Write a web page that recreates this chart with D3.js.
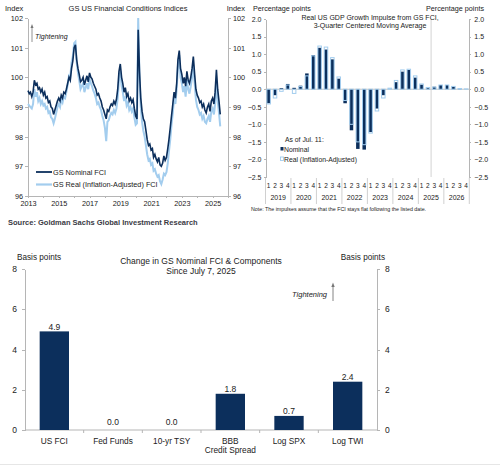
<!DOCTYPE html>
<html lang="en">
<head>
<meta charset="utf-8">
<title>GS Financial Conditions</title>
<script src="https://d3js.org/d3.v7.min.js"></script>
<style>
  body, html { margin: 0; padding: 0; background: #fff; }
  svg { font-family: "Liberation Sans", Arial, sans-serif; }
  .axis path, .axis line { stroke: #b5b5b5; shape-rendering: crispEdges; }
  .axis text { fill: #222; }
</style>
</head>
<body>
<script>
// ---- GS US Financial Conditions Indices (monthly, Jan 2013 - Jul 2025) ----
var fciStart = "2013-01";
var nominalFCI = [
  99.55, 99.45, 99.5, 99.35, 99.5, 99.9, 99.75, 99.8, 99.6, 99.65, 99.5, 99.6,
  99.4, 99.5, 99.3, 99.35, 99.15, 99.2, 99.0, 98.95, 98.75, 98.9, 99.05, 99.2,
  99.3, 99.2, 99.4, 99.3, 99.5, 99.45, 99.6, 99.8, 100.0, 99.9, 100.3, 100.55,
  101.0, 101.1, 100.6, 100.3, 100.1, 99.85, 99.9, 100.0, 99.75, 99.9, 100.05, 99.85,
  100.15, 100.0, 99.95, 99.8, 99.7, 99.6, 99.4, 99.45, 99.3, 99.2, 99.0, 98.9,
  98.75, 98.6, 98.9, 98.85, 99.0, 99.1, 99.05, 99.2, 99.1, 99.25, 99.6, 100.2,
  100.45, 100.0, 99.8, 99.5, 99.65, 99.35, 99.45, 99.2, 99.3, 99.15, 99.25, 98.95,
  98.7, 98.6, 101.6, 100.2, 99.3, 98.85, 98.6, 98.5, 98.2, 97.9, 97.7, 97.75,
  97.55, 97.6, 97.3, 97.4, 97.25, 97.15, 97.3, 97.05, 97.0, 97.1, 97.35, 97.2,
  97.3, 97.6, 97.9, 98.3, 98.7, 99.1, 99.5, 99.3, 99.8, 100.6, 100.9, 100.3,
  100.1, 99.8, 100.0, 99.7, 100.2, 99.9, 99.8, 100.0, 100.3, 100.7, 100.1, 99.6,
  99.4, 99.3, 99.15, 99.2, 99.0, 99.1, 98.9, 98.8, 99.0, 99.1, 98.85, 99.2,
  99.3, 99.1, 99.5, 100.25, 99.6, 99.2, 98.75
];
var realFCI = [
  99.1, 99.05, 99.0, 98.95, 99.1, 99.6, 99.35, 99.5, 99.2, 99.3, 99.1, 99.2,
  99.05, 99.1, 98.95, 99.0, 98.8, 98.85, 98.65, 98.6, 98.45, 98.6, 98.8, 99.0,
  99.1, 99.0, 99.25, 99.15, 99.35, 99.3, 99.5, 99.75, 100.05, 100.0, 100.5, 100.7,
  101.15, 101.2, 100.5, 100.15, 99.9, 99.6, 99.7, 99.8, 99.5, 99.65, 99.8, 99.6,
  99.95, 99.8, 99.7, 99.55, 99.45, 99.3, 99.1, 99.15, 99.0, 98.9, 98.7, 98.55,
  98.3, 97.85, 98.5, 98.55, 98.7, 98.8, 98.75, 98.9, 98.8, 98.95, 99.3, 99.9,
  100.2, 99.7, 99.5, 99.2, 99.35, 99.05, 99.15, 98.9, 99.0, 98.85, 98.95, 98.65,
  98.4, 98.45, 102.0, 100.0, 99.0, 98.5, 98.2, 98.0, 97.7, 97.4, 97.2, 97.25,
  97.05, 97.1, 96.85, 96.9, 96.75, 96.65, 96.7, 96.5, 96.4, 96.55, 96.75, 96.7,
  96.8, 97.1, 97.5, 97.9, 98.4, 98.8, 99.3, 99.1, 99.6, 100.4, 100.75, 100.0,
  99.8, 99.5, 99.7, 99.35, 99.9, 99.6, 99.45, 99.7, 100.0, 100.4, 99.8, 99.25,
  99.0, 98.9, 98.75, 98.8, 98.6, 98.7, 98.5, 98.45, 98.6, 98.7, 98.5, 98.85,
  98.95, 98.75, 99.1, 99.9, 99.2, 98.8, 98.35
];
var fciTicks = [96, 97, 98, 99, 100, 101, 102];

// ---- GDP growth impulse, quarterly 2019Q1 - 2026Q4 ----
var impulseYears = ["2019", "2020", "2021", "2022", "2023", "2024", "2025", "2026"];
var impulseNominal = [
  -0.40, -0.17, 0.03, 0.15,
   0.04, 0.10, 0.45, 0.97,
   1.18, 1.13, 0.85, 0.30,
  -0.40, -1.17, -1.70, -1.72,
  -1.22, -0.55, -0.17, 0.00,
   0.20, 0.50, 0.55, 0.33,
   0.13, 0.03, 0.07, 0.12,
   0.12, 0.07, 0.01, 0.00
];
var impulseReal = [
  -0.42, -0.25, -0.06, 0.12,
  -0.12, 0.08, 0.38, 0.95,
   1.23, 1.20, 0.90, 0.35,
  -0.32, -1.00, -1.50, -1.58,
  -1.25, -0.62, -0.25, 0.03,
   0.25, 0.55, 0.57, 0.38,
   0.15, 0.05, 0.06, 0.12,
   0.12, 0.08, 0.02, 0.01
];
var impulseTicks = [-2.5, -2.0, -1.5, -1.0, -0.5, 0.0, 0.5, 1.0, 1.5, 2.0];

// ---- Change in FCI & components since July 7, 2025 ----
var compNames = ["US FCI", "Fed Funds", "10-yr TSY", "BBB|Credit Spread", "Log SPX", "Log TWI"];
var compValues = [4.9, 0.0, 0.0, 1.8, 0.7, 2.4];
var compTicks = [0, 2, 4, 6, 8];

var darkBlue = "#0c2f5c";
var lightBlue = "#a3cdee";

var svg = d3.select("body").append("svg")
  .attr("width", 500)
  .attr("height", 466);

// ================= chart 1: FCI lines =================
var c1 = svg.append("g");

var fciDates = nominalFCI.map(function(d, i) {
  return d3.timeMonth.offset(d3.timeParse("%Y-%m")(fciStart), i);
});

var xFci = d3.scaleTime()
  .domain([new Date(2013, 0, 1), new Date(2026, 0, 1)])
  .range([28, 228]);
var yFci = d3.scaleLinear().domain([96, 102]).range([196, 18]);

c1.append("g").attr("class", "axis")
  .attr("transform", "translate(28,0)")
  .call(d3.axisLeft(yFci).tickValues(fciTicks).tickFormat(d3.format("d")).tickSize(3).tickSizeOuter(0).tickPadding(2))
  .selectAll("text").style("font-size", "7.3px");

c1.append("g").attr("class", "axis")
  .attr("transform", "translate(228,0)")
  .call(d3.axisRight(yFci).tickValues(fciTicks).tickFormat(d3.format("d")).tickSize(3).tickSizeOuter(0).tickPadding(2))
  .selectAll("text").style("font-size", "7.3px");

c1.append("g").attr("class", "axis")
  .attr("transform", "translate(0,196)")
  .call(d3.axisBottom(xFci)
    .ticks(d3.timeYear.every(1))
    .tickSize(2).tickSizeOuter(0).tickPadding(3)
    .tickFormat(function(d) { var y = d.getFullYear(); return y % 2 === 1 && y < 2026 ? y : ""; }))
  .selectAll("text").style("font-size", "7.3px");

var fciLine = d3.line()
  .x(function(d, i) { return xFci(fciDates[i]); })
  .y(function(d) { return yFci(d); });

c1.append("path")
  .datum(realFCI)
  .attr("fill", "none")
  .attr("stroke", lightBlue)
  .attr("stroke-width", 2)
  .attr("d", fciLine);

c1.append("path")
  .datum(nominalFCI)
  .attr("fill", "none")
  .attr("stroke", darkBlue)
  .attr("stroke-width", 1.6)
  .attr("d", fciLine);

c1.append("text").attr("x", 5).attr("y", 11).style("font-size", "7.5px").attr("fill", "#222").text("Index");
c1.append("text").attr("x", 245).attr("y", 11).attr("text-anchor", "end").style("font-size", "7.5px").attr("fill", "#222").text("Index");
c1.append("text").attr("x", 128).attr("y", 11).attr("text-anchor", "middle").style("font-size", "7.5px").attr("fill", "#222")
  .text("GS US Financial Conditions Indices");

// tightening arrow
c1.append("line").attr("x1", 32).attr("x2", 32).attr("y1", 42).attr("y2", 27).attr("stroke", "#777").attr("stroke-width", 0.8);
c1.append("path").attr("d", "M30.5,28 L32,24 L33.5,28 Z").attr("fill", "#777");
c1.append("text").attr("x", 35).attr("y", 39).style("font-size", "7px").style("font-style", "italic").attr("fill", "#222").text("Tightening");

// legend
var leg1 = [["GS Nominal FCI", darkBlue, 1.8, 174.5], ["GS Real (Inflation-Adjusted) FCI", lightBlue, 2.2, 187]];
leg1.forEach(function(l) {
  c1.append("line").attr("x1", 36).attr("x2", 52).attr("y1", l[3] - 2.5).attr("y2", l[3] - 2.5)
    .attr("stroke", l[1]).attr("stroke-width", l[2]);
  c1.append("text").attr("x", 53).attr("y", l[3]).style("font-size", "7.3px").attr("fill", "#222").text(l[0]);
});

c1.append("text").attr("x", 8).attr("y", 225).style("font-size", "7.5px").style("font-weight", "bold").attr("fill", "#3a3a44")
  .text("Source: Goldman Sachs Global Investment Research");

// ================= chart 2: GDP impulse bars =================
var c2 = svg.append("g");

var quarterKeys = [];
impulseYears.forEach(function(y) { [1, 2, 3, 4].forEach(function(q) { quarterKeys.push(y + "Q" + q); }); });

var xImp = d3.scaleBand().domain(quarterKeys).range([265.5, 469.3]).paddingInner(0.45).paddingOuter(0.22);
var yImp = d3.scaleLinear().domain([-2.5, 2.0]).range([177, 19]);

c2.append("g").attr("class", "axis")
  .attr("transform", "translate(265.5,0)")
  .call(d3.axisLeft(yImp).tickValues(impulseTicks).tickSize(2).tickSizeOuter(0).tickPadding(2).tickFormat(d3.format(".1f")))
  .selectAll("text").style("font-size", "7px");

c2.append("g").attr("class", "axis")
  .attr("transform", "translate(469.3,0)")
  .call(d3.axisRight(yImp).tickValues(impulseTicks).tickSize(2).tickSizeOuter(0).tickPadding(3).tickFormat(d3.format(".1f")))
  .selectAll("text").style("font-size", "7px");

// zero line
c2.append("line").attr("x1", 265.5).attr("x2", 469.3).attr("y1", yImp(0)).attr("y2", yImp(0))
  .attr("stroke", "#c4c4c4").attr("stroke-width", 1);

// forecast divider between 2025Q2 and 2025Q3
var divX = (xImp("2025Q2") + xImp.bandwidth() + xImp("2025Q3")) / 2;
c2.append("line").attr("x1", divX).attr("x2", divX).attr("y1", 19).attr("y2", 177)
  .attr("stroke", "#c8c8c8").attr("stroke-width", 0.8);

c2.selectAll("rect.nom")
  .data(impulseNominal)
  .enter().append("rect")
  .attr("class", "nom")
  .attr("x", function(d, i) { return xImp(quarterKeys[i]); })
  .attr("width", xImp.bandwidth())
  .attr("y", function(d) { return yImp(Math.max(0, d)); })
  .attr("height", function(d) { return Math.abs(yImp(d) - yImp(0)); })
  .attr("fill", darkBlue);

c2.selectAll("rect.real")
  .data(impulseReal)
  .enter().append("rect")
  .attr("class", "real")
  .attr("x", function(d, i) { return xImp(quarterKeys[i]); })
  .attr("width", xImp.bandwidth())
  .attr("y", function(d) { return yImp(Math.max(0, d)); })
  .attr("height", function(d) { return Math.abs(yImp(d) - yImp(0)); })
  .attr("fill", "none")
  .attr("stroke", lightBlue)
  .attr("stroke-width", 1);

// quarter and year labels
c2.selectAll("text.q")
  .data(quarterKeys)
  .enter().append("text")
  .attr("class", "q")
  .attr("x", function(d) { return xImp(d) + xImp.bandwidth() / 2; })
  .attr("y", 187.5)
  .attr("text-anchor", "middle")
  .style("font-size", "6.5px").attr("fill", "#222")
  .text(function(d) { return d.slice(-1); });

c2.selectAll("text.yr")
  .data(impulseYears)
  .enter().append("text")
  .attr("class", "yr")
  .attr("x", function(d) { return (xImp(d + "Q1") + xImp(d + "Q4") + xImp.bandwidth()) / 2; })
  .attr("y", 200)
  .attr("text-anchor", "middle")
  .style("font-size", "7px").attr("fill", "#222")
  .text(function(d) { return d; });

var sepX = impulseYears.map(function(d) { return xImp(d + "Q1") - xImp.step() * xImp.paddingInner() / 2; });
sepX[0] = 265.5;
sepX.push(469.3);
c2.selectAll("line.sep")
  .data(sepX)
  .enter().append("line")
  .attr("class", "sep")
  .attr("x1", function(d) { return d; }).attr("x2", function(d) { return d; })
  .attr("y1", 178).attr("y2", 204)
  .attr("stroke", "#c4c4c4").attr("stroke-width", 0.8);

c2.append("text").attr("x", 253).attr("y", 11).style("font-size", "7.2px").attr("fill", "#222").text("Percentage  points");
c2.append("text").attr("x", 484).attr("y", 11).attr("text-anchor", "end").style("font-size", "7.2px").attr("fill", "#222").text("Percentage  points");
c2.append("text").attr("x", 370).attr("y", 20).attr("text-anchor", "middle").style("font-size", "7px").attr("fill", "#222")
  .text("Real US GDP Growth Impulse from GS FCI,");
c2.append("text").attr("x", 370).attr("y", 28).attr("text-anchor", "middle").style("font-size", "7px").attr("fill", "#222")
  .text("3-Quarter Centered Moving Average");

c2.append("text").attr("x", 285).attr("y", 141.5).style("font-size", "6.8px").attr("fill", "#222").text("As of Jul. 11:");
c2.append("rect").attr("x", 280.5).attr("y", 147).attr("width", 3).attr("height", 3.5).attr("fill", darkBlue);
c2.append("text").attr("x", 284).attr("y", 151.5).style("font-size", "6.8px").attr("fill", "#222").text("Nominal");
c2.append("rect").attr("x", 280.5).attr("y", 157).attr("width", 3).attr("height", 3.5).attr("fill", "none")
  .attr("stroke", lightBlue).attr("stroke-width", 0.9);
c2.append("text").attr("x", 284).attr("y", 161.5).style("font-size", "6.8px").attr("fill", "#222").text("Real (Inflation-Adjusted)");

c2.append("text").attr("x", 251).attr("y", 210.5).style("font-size", "5.3px").attr("fill", "#222")
  .text("Note: The impulses assume that the FCI stays flat following the listed date.");

// ================= chart 3: components bars =================
var c3 = svg.append("g");

var xComp = d3.scaleBand().domain(compNames).range([25, 377]).paddingInner(0.5).paddingOuter(0.25);
var yComp = d3.scaleLinear().domain([0, 8]).range([430, 269]);

c3.append("g").attr("class", "axis")
  .attr("transform", "translate(25,0)")
  .call(d3.axisLeft(yComp).tickValues(compTicks).tickSize(3).tickSizeOuter(0).tickPadding(5))
  .selectAll("text").style("font-size", "8.5px");

c3.append("g").attr("class", "axis")
  .attr("transform", "translate(377,0)")
  .call(d3.axisRight(yComp).tickValues(compTicks).tickSize(3).tickSizeOuter(0).tickPadding(5))
  .selectAll("text").style("font-size", "8.5px");

c3.append("line").attr("x1", 25).attr("x2", 377).attr("y1", 430).attr("y2", 430)
  .attr("stroke", "#b5b5b5").attr("stroke-width", 1);

var compBounds = compNames.map(function(d) { return xComp(d) - xComp.step() * 0.25; }).slice(1);
c3.selectAll("line.ctick")
  .data(compBounds)
  .enter().append("line")
  .attr("class", "ctick")
  .attr("x1", function(d) { return d; }).attr("x2", function(d) { return d; })
  .attr("y1", 430).attr("y2", 433)
  .attr("stroke", "#b5b5b5");

c3.selectAll("rect.comp")
  .data(compValues)
  .enter().append("rect")
  .attr("class", "comp")
  .attr("x", function(d, i) { return xComp(compNames[i]); })
  .attr("width", xComp.bandwidth())
  .attr("y", function(d) { return yComp(d); })
  .attr("height", function(d) { return yComp(0) - yComp(d); })
  .attr("fill", darkBlue);

c3.selectAll("text.val")
  .data(compValues)
  .enter().append("text")
  .attr("class", "val")
  .attr("x", function(d, i) { return xComp(compNames[i]) + xComp.bandwidth() / 2; })
  .attr("y", function(d) { return yComp(d) - (d === 0 ? 5 : 1.5); })
  .attr("text-anchor", "middle")
  .style("font-size", "8.5px").attr("fill", "#222")
  .text(function(d) { return d.toFixed(1); });

c3.selectAll("text.cat")
  .data(compNames)
  .enter().append("text")
  .attr("class", "cat")
  .attr("x", function(d) { return xComp(d) + xComp.bandwidth() / 2; })
  .attr("y", 443.5)
  .attr("text-anchor", "middle")
  .style("font-size", "8.3px").attr("fill", "#222")
  .each(function(d) {
    var parts = d.split("|");
    var t = d3.select(this);
    parts.forEach(function(p, k) {
      t.append("tspan").attr("x", t.attr("x")).attr("dy", k === 0 ? 0 : 9).text(p);
    });
  });

c3.append("text").attr("x", 17).attr("y", 260).style("font-size", "8.2px").attr("fill", "#222").text("Basis points");
c3.append("text").attr("x", 385).attr("y", 260).attr("text-anchor", "end").style("font-size", "8.2px").attr("fill", "#222").text("Basis points");
c3.append("text").attr("x", 201).attr("y", 264).attr("text-anchor", "middle").style("font-size", "8.5px").attr("fill", "#222")
  .text("Change  in GS Nominal  FCI & Components");
c3.append("text").attr("x", 201).attr("y", 274).attr("text-anchor", "middle").style("font-size", "8.5px").attr("fill", "#222")
  .text("Since July 7, 2025");

c3.append("text").attr("x", 327).attr("y", 297).attr("text-anchor", "end").style("font-size", "7.5px").style("font-style", "italic").attr("fill", "#222")
  .text("Tightening");
c3.append("line").attr("x1", 333).attr("x2", 333).attr("y1", 301).attr("y2", 286).attr("stroke", "#777").attr("stroke-width", 0.9);
c3.append("path").attr("d", "M331.3,287 L333,282.5 L334.7,287 Z").attr("fill", "#777");

svg.append("line").attr("x1", 0).attr("x2", 500).attr("y1", 464.5).attr("y2", 464.5)
  .attr("stroke", "#e6e6e6").attr("stroke-width", 1);
</script>
</body>
</html>
